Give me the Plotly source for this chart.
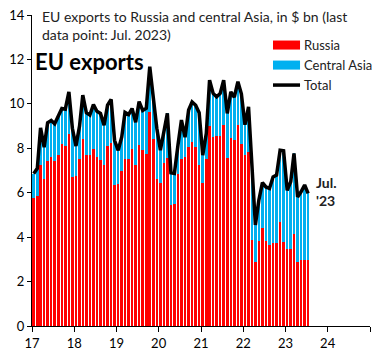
import pandas as pd
import plotly.graph_objects as go

months = pd.date_range("2017-01-01", "2023-07-01", freq="MS") + pd.Timedelta(days=15)

russia = [5.76, 5.85, 7.24, 6.60, 7.44, 7.60, 7.42, 7.72, 8.18, 8.10, 8.63, 6.70,
          6.76, 7.51, 8.41, 7.72, 7.69, 7.95, 7.61, 7.46, 7.26, 8.11, 8.24, 6.34,
          6.39, 6.97, 7.51, 7.51, 7.96, 7.26, 8.13, 7.93, 7.73, 9.64, 8.41, 6.61,
          6.44, 7.35, 7.55, 5.44, 5.51, 6.83, 7.50, 7.60, 8.04, 8.29, 8.04, 7.24,
          6.44, 7.54, 9.00, 8.49, 8.55, 8.55, 9.04, 7.55, 8.45, 8.36, 9.04, 8.20,
          7.70, 7.85, 3.86, 2.88, 3.84, 4.40, 3.82, 3.63, 3.72, 3.72, 4.69, 3.77,
          3.45, 3.45, 4.16, 2.88, 2.96, 2.96, 2.96]

central_asia = [1.10, 1.25, 1.68, 1.45, 1.71, 1.65, 1.68, 1.73, 1.61, 1.66, 1.91, 2.20,
                1.34, 1.49, 1.98, 1.88, 1.81, 2.02, 2.06, 2.11, 1.78, 1.83, 1.96, 2.01,
                1.52, 1.54, 2.11, 2.01, 1.83, 1.91, 1.97, 1.77, 2.07, 2.03, 1.89, 2.29,
                1.47, 1.46, 2.02, 1.46, 1.36, 1.32, 1.77, 0.90, 1.68, 1.80, 1.90, 2.36,
                1.25, 1.13, 2.07, 1.98, 1.77, 1.92, 2.03, 2.02, 2.09, 1.94, 1.96, 2.25,
                1.36, 2.02, 3.24, 1.67, 1.82, 2.05, 2.44, 2.56, 2.99, 3.07, 3.22, 4.12,
                2.66, 3.05, 3.61, 2.93, 3.08, 3.39, 3.01]

total = [6.86, 7.10, 8.92, 8.05, 9.15, 9.25, 9.10, 9.45, 9.79, 9.76, 10.54, 8.90,
         8.10, 9.00, 10.39, 9.60, 9.50, 9.97, 9.67, 9.57, 9.04, 9.94, 10.20, 8.35,
         7.91, 8.51, 9.62, 9.52, 9.79, 9.17, 10.10, 9.70, 9.80, 11.67, 10.30, 8.90,
         7.91, 8.81, 9.57, 6.90, 6.87, 8.15, 9.27, 8.50, 9.72, 10.09, 9.94, 9.60,
         7.69, 8.67, 11.07, 10.47, 10.32, 10.47, 11.07, 9.57, 10.54, 10.30, 11.00, 10.45,
         9.06, 9.87, 7.10, 4.55, 5.66, 6.45, 6.26, 6.19, 6.71, 6.79, 7.91, 7.89,
         6.11, 6.50, 7.77, 5.81, 6.04, 6.35, 5.97]

year_ticks = pd.date_range("2017-01-01", "2025-01-01", freq="YS")
year_labels = ["17", "18", "19", "20", "21", "22", "23", "24", ""]

series_names = ["Russia", "Central Asia", "Total"]
series_colors = ["#FF0000", "#00B0F0", "black"]

FONT = "Lato"
bar_w = 22 * 86400000

fig = go.Figure()
fig.add_trace(go.Bar(x=months, y=russia, name=series_names[0], marker_color=series_colors[0],
                     marker_line_width=0, width=bar_w))
fig.add_trace(go.Bar(x=months, y=central_asia, name=series_names[1], marker_color=series_colors[1],
                     marker_line_width=0, width=bar_w))
fig.add_trace(go.Scatter(x=months, y=total, name=series_names[2], mode="lines",
                         line=dict(color=series_colors[2], width=3.5)))

# custom legend (paper coordinates)
leg_x0, leg_x1, leg_tx = 0.713, 0.793, 0.80
leg_y = [0.9034, 0.839, 0.7747]
half_h = 0.0145
shapes = []
for k in range(2):
    shapes.append(dict(type="rect", xref="paper", yref="paper", x0=leg_x0, x1=leg_x1,
                       y0=leg_y[k] - half_h, y1=leg_y[k] + half_h,
                       fillcolor=series_colors[k], line_width=0))
shapes.append(dict(type="line", xref="paper", yref="paper", x0=leg_x0, x1=leg_x1,
                   y0=leg_y[2], y1=leg_y[2], line=dict(color="black", width=3.5)))

annotations = [
    dict(text="EU exports to Russia and central Asia, in $ bn (last<br>data point: Jul. 2023)",
         xref="paper", yref="paper", x=0.024, y=1.03, xanchor="left", yanchor="top",
         align="left", showarrow=False, font=dict(size=14, family=FONT, color="#222")),
    dict(text="<b>EU exports</b>", xref="paper", yref="paper", x=0.002, y=0.849,
         xanchor="left", yanchor="middle", showarrow=False,
         font=dict(size=22, family=FONT, color="black")),
    dict(text="<b>Jul.<br>'23</b>", xref="paper", yref="paper", x=0.835, y=0.432,
         xanchor="left", yanchor="middle", align="left", showarrow=False,
         font=dict(size=14, family=FONT, color="#222")),
]
for k in range(3):
    annotations.append(dict(text=series_names[k], xref="paper", yref="paper", x=leg_tx,
                            y=leg_y[k], xanchor="left", yanchor="middle", showarrow=False,
                            font=dict(size=13, family=FONT, color="#222")))

# the page places the figure 8 px from its top-left corner
fig.update_layout(
    width=376, height=351,
    margin=dict(l=24, r=14, t=7, b=33),
    barmode="stack",
    plot_bgcolor="white", paper_bgcolor="white",
    font=dict(family=FONT, size=13, color="black"),
    showlegend=False,
    xaxis=dict(range=[year_ticks[0], year_ticks[-1]], tickvals=year_ticks,
               ticktext=year_labels, showgrid=False, showline=True, automargin=False,
               linecolor="black", linewidth=1, ticks="outside", ticklen=5,
               tickcolor="black", tickfont=dict(size=13, family=FONT), zeroline=False,
               ticklabeloverflow="allow"),
    yaxis=dict(range=[0, 14], dtick=2, showgrid=False, showline=True, automargin=False,
               linecolor="black", linewidth=1, ticks="outside", ticklen=4,
               tickcolor="black", tickfont=dict(size=13, family=FONT), zeroline=False,
               ticklabeloverflow="allow"),
    shapes=shapes,
    annotations=annotations,
)

fig.write_html("out.html")
